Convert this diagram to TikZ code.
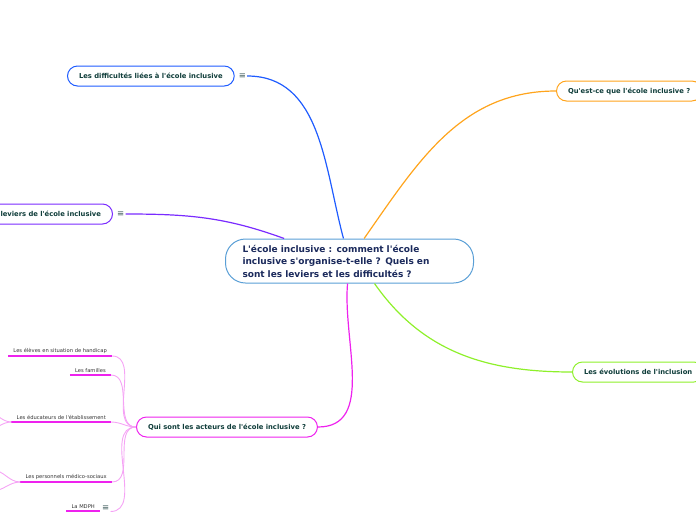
\documentclass[tikz,border=0pt]{standalone}
\usepackage{fontspec}
\setmainfont{DejaVu Sans}[Ligatures=TeXOff]
\usetikzlibrary{positioning}
\definecolor{rootline}{HTML}{5A9FD6}
\definecolor{roottext}{HTML}{1B2A5C}
\definecolor{topictext}{HTML}{0F3D3A}
\definecolor{leaftext}{HTML}{333333}
\definecolor{menugray}{HTML}{3D5A5A}
\definecolor{bdiff}{HTML}{1F5CFF}
\definecolor{bquest}{HTML}{FFA41C}
\definecolor{blev}{HTML}{7A2BFF}
\definecolor{bevol}{HTML}{8EF02A}
\definecolor{bact}{HTML}{EE22EE}
\definecolor{leafedge}{HTML}{F5A3F5}
\tikzset{
    rootbox/.style={draw=rootline, fill=white, line width=1pt, rounded corners=20pt, text=roottext, font=\bfseries\fontsize{9}{12.5}\selectfont, align=left, text width=214pt, inner xsep=17pt, minimum height=44pt},
    topic/.style={draw=#1, fill=white, line width=1pt, rounded corners=10pt, text=topictext, font=\bfseries\fontsize{6.8}{8}\selectfont, minimum height=20pt, inner xsep=11.5pt},
    menu/.style={text=menugray, font=\fontsize{8.5}{9}\selectfont, inner sep=1pt},
    leaf/.style={text=leaftext, font=\fontsize{5.2}{6}\selectfont, inner xsep=5pt, inner ysep=2pt},
    leafline/.style={draw=bact, line width=1.6pt},
    branch/.style={draw=#1, line width=1.2pt},
    twig/.style={draw=leafedge, line width=0.9pt}
}
\begin{document}
\begin{tikzpicture}[x=1pt, y=-1pt]
  \useasboundingbox (0,0) rectangle (696,520);
  \clip (0,0) rectangle (696,520);

  % Central topic
  \node[rootbox, anchor=west] (root) at (225,261) {L'école inclusive : comment l'école\\inclusive s'organise-t-elle ? Quels en\\sont les leviers et les difficultés ?};

  % Main topics
  \node[topic=bdiff, anchor=west] (diff) at (67,76) {Les difficultés liées à l'école inclusive};
  \node[menu, right=3pt of diff] (mdiff) {≡};
  \node[topic=bquest, anchor=west] (quest) at (556,91) {Qu'est-ce que l'école inclusive ?};
  \node[topic=blev, anchor=east, text width=102pt, align=right] (lev) at (113,214) {leviers de l'école inclusive};
  \node[menu, right=3pt of lev] (mlev) {≡};
  \node[topic=bevol, anchor=west] (evol) at (572,372) {Les évolutions de l'inclusion};
  \node[topic=bact, anchor=west] (act) at (136,427) {Qui sont les acteurs de l'école inclusive ?};

  % Actors
  \node[leaf, anchor=south east] (eleves) at (112,356) {Les élèves en situation de handicap};
  \node[leaf, anchor=south east] (familles) at (111,375) {Les familles};
  \node[leaf, anchor=south east] (educ) at (111,422) {Les éducateurs de l'établissement};
  \node[leaf, anchor=south east] (perso) at (112,482) {Les personnels médico-sociaux};
  \node[leaf, anchor=south east] (mdph) at (100,511) {La MDPH};
  \node[menu, anchor=south west] (mmdph) at (101,511.5) {≡};
  \foreach \n in {eleves,familles,educ,perso,mdph}
    \draw[leafline] (\n.south west) -- (\n.south east);

  % Branches
  \draw[branch=bdiff] (mdiff.east) to[out=0,in=105] (root.105);
  \draw[branch=bquest] (root.57) to[out=55,in=180] (quest.west);
  \draw[branch=blev] (mlev.east) to[out=0,in=160] (root.161);
  \draw[branch=bevol] (root.-42) to[out=-55,in=180] (evol.west);
  \draw[branch=bact] (root.-95) to[out=-95,in=0] (act.east);

  % Twigs to the actors
  \foreach \n in {eleves,familles,educ,perso}
    \draw[twig] (\n.south east) to[out=0,in=180] (act.west);
  \draw[twig] (mmdph.south east) to[out=0,in=180] (act.west);

  % Collapsed children, off the left edge
  \coordinate (educa) at (-12,413);
  \coordinate (educb) at (-12,429);
  \coordinate (persoa) at (-8,470);
  \coordinate (persob) at (-8,491);
  \draw[twig] (educ.south west) to[out=180,in=0] (educa);
  \draw[twig] (educ.south west) to[out=180,in=0] (educb);
  \draw[twig] (perso.south west) to[out=180,in=0] (persoa);
  \draw[twig] (perso.south west) to[out=180,in=0] (persob);

\end{tikzpicture}
\end{document}
